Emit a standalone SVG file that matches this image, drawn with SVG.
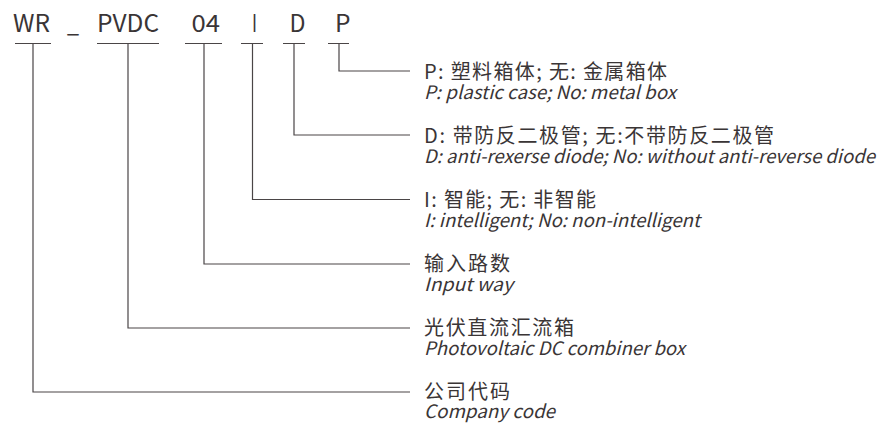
<svg xmlns="http://www.w3.org/2000/svg" width="877" height="423" viewBox="0 0 877 423">
<style>
.code{font-family:"Noto Sans CJK SC","Noto Sans",sans-serif;font-size:24px;fill:#3a3536}
.cn{font-family:"Noto Sans CJK SC",sans-serif;font-size:20px;fill:#3a3536}
.en{font-family:"Noto Sans CJK SC","Noto Sans",sans-serif;font-style:italic;font-size:18.5px;fill:#3a3536}
.ln{fill:none;stroke:#4a4546;stroke-width:1.2}
</style>
<rect width="877" height="423" fill="#fff"/>
<g id="code">
<text class="code" x="13" y="32" textLength="37" lengthAdjust="spacingAndGlyphs">WR</text>
<text class="code" x="67" y="32" textLength="12" lengthAdjust="spacingAndGlyphs">_</text>
<text class="code" x="97" y="32" textLength="62" lengthAdjust="spacingAndGlyphs">PVDC</text>
<text class="code" x="191.5" y="32" textLength="28.5" lengthAdjust="spacingAndGlyphs">04</text>
<text class="code" x="252" y="32" textLength="5" lengthAdjust="spacingAndGlyphs">I</text>
<text class="code" x="289.5" y="32" textLength="16" lengthAdjust="spacingAndGlyphs">D</text>
<text class="code" x="335" y="32" textLength="15.5" lengthAdjust="spacingAndGlyphs">P</text>
</g>
<g id="connectors" class="ln">
<path d="M15 43.5H51M33 43.5V392H410"/>
<path d="M97 43.5H159M128 43.5V328H410"/>
<path d="M185 43.5H222M204 43.5V264H410"/>
<path d="M241 43.5H263M252.5 43.5V199.5H410"/>
<path d="M283 43.5H305M294 43.5V135H410"/>
<path d="M328 43.5H349M339 43.5V71H410"/>
</g>
<g id="p-desc">
<text class="cn" x="424" y="78.5" textLength="243" lengthAdjust="spacing">P: 塑料箱体; 无: 金属箱体</text>
<text class="en" x="424" y="98.5" textLength="252" lengthAdjust="spacingAndGlyphs">P: plastic case; No: metal box</text>
</g>
<g id="d-desc">
<text class="cn" x="424" y="142.5" textLength="350" lengthAdjust="spacing">D: 带防反二极管; 无:不带防反二极管</text>
<text class="en" x="424" y="162.5" textLength="451" lengthAdjust="spacingAndGlyphs">D: anti-rexerse diode; No: without anti-reverse diode</text>
</g>
<g id="i-desc">
<text class="cn" x="424" y="206.5" textLength="172" lengthAdjust="spacing">I: 智能; 无: 非智能</text>
<text class="en" x="424" y="226.5" textLength="276" lengthAdjust="spacingAndGlyphs">I: intelligent; No: non-intelligent</text>
</g>
<g id="input-desc">
<text class="cn" x="424" y="270.5" textLength="86" lengthAdjust="spacing">输入路数</text>
<text class="en" x="424" y="290.5" textLength="89" lengthAdjust="spacingAndGlyphs">Input way</text>
</g>
<g id="pvdc-desc">
<text class="cn" x="424" y="334.5" textLength="150" lengthAdjust="spacing">光伏直流汇流箱</text>
<text class="en" x="424" y="354.5" textLength="261" lengthAdjust="spacingAndGlyphs">Photovoltaic DC combiner box</text>
</g>
<g id="wr-desc">
<text class="cn" x="424" y="398.5" textLength="86" lengthAdjust="spacing">公司代码</text>
<text class="en" x="424" y="418" textLength="131" lengthAdjust="spacingAndGlyphs">Company code</text>
</g>
</svg>
